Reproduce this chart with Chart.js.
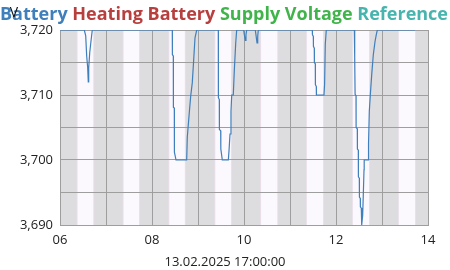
<!DOCTYPE html>
<html>
<head>
<meta charset="utf-8">
<script src="https://cdn.jsdelivr.net/npm/chart.js@4.4.1/dist/chart.umd.min.js"></script>
<style>
	body { margin: 0; background: #fff; }
	#wrap { width: 450px; height: 270px; }
</style>
</head>
<body>
<div id="wrap"><canvas id="myChart" width="450" height="270"></canvas></div>
<script>
// series names + colours (only Battery has points inside the visible range)
const series_names = ['Battery', 'Heating Battery', 'Supply Voltage', 'Reference'];
const series_colors = ['#3f7fbc', '#b7403f', '#40b44a', '#48b4ae'];

// time in hours of the day, values in V
const battery_times = [
	6.000, 6.528, 6.559, 6.580, 6.602, 6.615, 6.624, 6.646, 6.674, 6.702,
	8.441, 8.443, 8.463, 8.465, 8.485, 8.487, 8.522, 8.754, 8.767, 8.811,
	8.841, 8.876, 8.907, 8.935, 8.972,
	9.441, 9.443, 9.463, 9.465, 9.493, 9.496, 9.528, 9.659, 9.674, 9.696,
	9.717, 9.733, 9.767, 9.789, 9.820, 9.841,
	9.993, 10.007, 10.028, 10.043, 10.059,
	10.246, 10.261, 10.283, 10.298, 10.311,
	11.485, 11.487, 11.507, 11.509, 11.528, 11.530, 11.550, 11.552, 11.572, 11.574,
	11.739, 11.752, 11.767, 11.789,
	12.398, 12.400, 12.413, 12.415, 12.435, 12.437, 12.463, 12.465, 12.485, 12.487,
	12.507, 12.509, 12.528, 12.530, 12.550, 12.552, 12.565, 12.580, 12.593, 12.609,
	12.613, 12.702, 12.707, 12.724, 12.746, 12.776, 12.811, 12.848, 12.876, 12.898,
	13.717
];
const battery_values = [
	3.720, 3.720, 3.7191, 3.7160, 3.7142, 3.7120, 3.7142, 3.7165, 3.7183, 3.720,
	3.720, 3.7162, 3.7160, 3.7081, 3.7080, 3.7012, 3.700, 3.700, 3.7035, 3.7073,
	3.7098, 3.7119, 3.7155, 3.7188, 3.720,
	3.720, 3.7096, 3.7093, 3.7047, 3.7045, 3.7017, 3.700, 3.700, 3.7014, 3.7040,
	3.7075, 3.7100, 3.7100, 3.7137, 3.7180, 3.720,
	3.720, 3.7193, 3.7184, 3.7193, 3.720,
	3.720, 3.7192, 3.7180, 3.7190, 3.720,
	3.720, 3.7193, 3.7190, 3.7175, 3.7172, 3.7150, 3.7148, 3.7116, 3.7113, 3.710,
	3.710, 3.7116, 3.7178, 3.720,
	3.720, 3.7160, 3.7158, 3.7101, 3.7099, 3.7050, 3.7048, 3.7017, 3.7015, 3.6974,
	3.6972, 3.6943, 3.6941, 3.6928, 3.6926, 3.6915, 3.690, 3.6915, 3.6945, 3.6985,
	3.700, 3.700, 3.7025, 3.7075, 3.710, 3.7131, 3.7162, 3.7182, 3.7193, 3.720,
	3.720
];

// light background bands (hours)
const band_starts = [6.36, 7.36, 8.355, 9.355, 10.35, 11.345, 12.345, 13.345];
const band_ends = [6.745, 7.74, 8.735, 9.74, 10.745, 11.74, 12.74, 13.74];

const x_min = 6, x_max = 14;
const y_min = 3.69, y_max = 3.72;
const date_label = '13.02.2025 17:00:00';
const unit_label = 'V';

const font_family = '"Open Sans", sans-serif';

var datasets = series_names.map(function (name, i) {
	return {
		label: name,
		data: i === 0 ? battery_times.map(function (t, k) { return { x: t, y: battery_values[k] }; }) : [],
		borderColor: series_colors[i],
		backgroundColor: series_colors[i],
		borderWidth: 1.2,
		pointRadius: 0,
		tension: 0,
		fill: false,
	};
});

const bandsPlugin = {
	id: 'bands',
	beforeDraw: function (chart) {
		const ctx = chart.ctx;
		const a = chart.chartArea;
		const xs = chart.scales.x;
		ctx.save();
		ctx.fillStyle = '#dddcdf';
		ctx.fillRect(a.left, a.top, a.right - a.left, a.bottom - a.top);
		for (let i = 0; i < band_starts.length; i++) {
			let x0 = xs.getPixelForValue(band_starts[i]);
			let x1 = xs.getPixelForValue(band_ends[i]);
			ctx.fillStyle = '#e9dfe9';
			ctx.fillRect(x0, a.top, x1 - x0, a.bottom - a.top);
			ctx.fillStyle = '#fcf9fe';
			ctx.fillRect(x0 + 1, a.top, x1 - x0 - 2, a.bottom - a.top);
		}
		ctx.restore();
	},
	afterDraw: function (chart) {
		const ctx = chart.ctx;
		ctx.save();
		// legend, wider than the canvas, centred
		ctx.font = 'bold 18px ' + font_family;
		ctx.textBaseline = 'alphabetic';
		ctx.textAlign = 'left';
		const space = ctx.measureText(' ').width;
		let total = 0;
		chart.data.datasets.forEach(function (ds, i) {
			total += ctx.measureText(ds.label).width + (i > 0 ? space : 0);
		});
		let x = 224 - total / 2;
		chart.data.datasets.forEach(function (ds) {
			ctx.fillStyle = ds.borderColor;
			ctx.fillText(ds.label, x, 20);
			x += ctx.measureText(ds.label).width + space;
		});
		// unit
		ctx.font = '14px ' + font_family;
		ctx.fillStyle = '#111';
		ctx.textAlign = 'center';
		ctx.fillText(unit_label, 14, 17);
		// date below the axis
		ctx.font = '13px ' + font_family;
		ctx.fillStyle = '#222';
		ctx.fillText(date_label, 225, 266);
		ctx.restore();
	}
};

const config = {
	type: 'line',
	data: { datasets: datasets },
	options: {
		responsive: false,
		animation: false,
		layout: { padding: { top: 30, right: 22, bottom: 0, left: 0 } },
		plugins: {
			legend: { display: false },
			title: { display: false },
			tooltip: { enabled: false },
		},
		scales: {
			x: {
				type: 'linear',
				min: x_min,
				max: x_max,
				afterFit: function (scale) { scale.height = 45; },
				grid: { color: '#9e9e9e', lineWidth: 1, drawTicks: false },
				border: { color: '#9e9e9e' },
				ticks: {
					stepSize: 1,
					autoSkip: false,
					maxRotation: 0,
					padding: 7,
					color: '#222',
					font: { family: font_family, size: 13 },
					callback: function (v) {
						return v % 2 === 0 ? String(v).padStart(2, '0') : '';
					},
				},
			},
			y: {
				min: y_min,
				max: y_max,
				afterFit: function (scale) { scale.width = 60; },
				grid: { color: '#9e9e9e', lineWidth: 1, drawTicks: false },
				border: { color: '#9e9e9e' },
				ticks: {
					stepSize: 0.005,
					padding: 7,
					color: '#222',
					font: { family: font_family, size: 13 },
					callback: function (v) {
						let m = Math.round(v * 1000);
						return m % 10 === 0 ? (m / 1000).toFixed(3).replace('.', ',') : '';
					},
				},
			},
		},
	},
	plugins: [bandsPlugin],
};

var myChart = new Chart(document.getElementById('myChart'), config);
</script>
</body>
</html>
